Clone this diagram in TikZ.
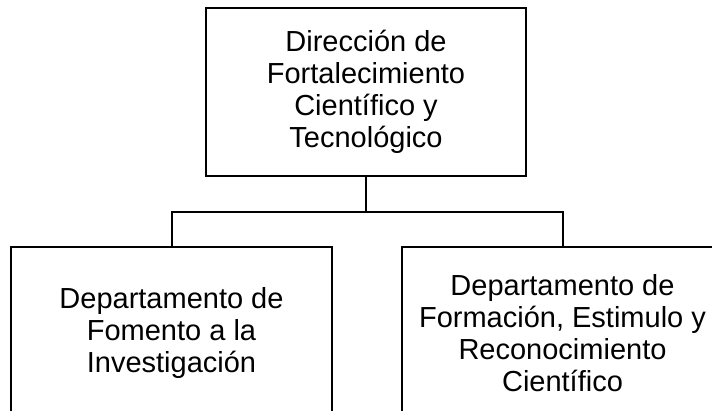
\documentclass[tikz,border=0pt]{standalone}
\usepackage{fontspec}
\setmainfont{Liberation Sans}
\usepackage{tikz}

\begin{document}
\begin{tikzpicture}[x=1pt,y=-1pt,line width=2pt]
\tikzstyle{every node}+=[inner sep=0pt]
\tikzstyle{unidad}=[draw=black,align=center,font=\fontsize{29}{32}\selectfont]
\useasboundingbox (0,0) rectangle (712,410);
\clip (0,0) rectangle (712,410);
\node [unidad,minimum width=320,minimum height=168] (direccion) at (366,92) {Direcci\'on de\\Fortalecimiento\\Cient\'ifico y\\Tecnol\'ogico};
\node [unidad,minimum width=321,minimum height=172] (fomento) at (171.5,333) {Departamento de\\Fomento a la\\Investigaci\'on};
\node [unidad,minimum width=321,minimum height=172] (formacion) at (562.5,333) {Departamento de\\Formaci\'on, Estimulo y\\Reconocimiento\\Cient\'ifico};
\coordinate (barra) at (366,212);
\draw [black] (direccion.south) -- (barra);
\draw [black] (fomento.north) -- (fomento.north |- barra) -- (formacion.north |- barra) -- (formacion.north);
\end{tikzpicture}
\end{document}
